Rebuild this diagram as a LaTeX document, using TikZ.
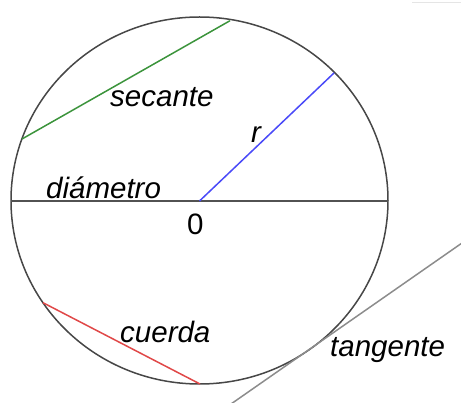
\documentclass[tikz,border=0pt]{standalone}
\usepackage{fontspec}
\setmainfont{Liberation Sans}
\definecolor{secg}{HTML}{3C943C}
\definecolor{radb}{HTML}{4A4AF8}
\definecolor{chr}{HTML}{E04848}
\begin{document}
\begin{tikzpicture}[x=1pt,y=-1pt,
  lbl/.style={inner sep=0pt,anchor=base west,font=\fontsize{29.5}{31}\selectfont\itshape},
  num/.style={inner sep=0pt,anchor=base west,font=\fontsize{29.5}{31}\selectfont},
  circ/.style={draw=black!72,line width=1.5pt},
  diam/.style={draw=black!68,line width=1.5pt},
  rad/.style={draw=radb,line width=1.5pt},
  sec/.style={draw=secg,line width=1.5pt},
  chord/.style={draw=chr,line width=1.5pt},
  tang/.style={draw=black!45,line width=1.5pt}]
\useasboundingbox (0,0) rectangle (461,403);
\clip (0,0) rectangle (461,403);
% faint top bar
\coordinate (b1) at (412,2.7);
\coordinate (b2) at (461,2.7);
\draw[black!10,line width=1.5pt] (b1) -- (b2);
% circle
\coordinate (O) at (199.5,200.5);
\draw[circ] (O) ellipse [x radius=188.5, y radius=183.5];
% diameter
\coordinate (dL) at (11,201);
\coordinate (dR) at (388,201);
\draw[diam] (dL) -- (dR);
% radius
\coordinate (c) at (199.5,201);
\coordinate (rE) at (334,73);
\draw[rad] (c) -- (rE);
% secant
\coordinate (s1) at (22,139);
\coordinate (s2) at (230,20.7);
\draw[sec] (s1) -- (s2);
% chord
\coordinate (h1) at (43,302.7);
\coordinate (h2) at (200,384);
\draw[chord] (h1) -- (h2);
% tangent
\coordinate (t1) at (231,404);
\coordinate (t2) at (462,243);
\draw[tang] (t1) -- (t2);
% labels
\node[lbl] (lsec) at (110,106.7) {secante};
\node[lbl] (lr) at (251,143) {r};
\node[lbl] (ldia) at (46,199) {diámetro};
\node[num] (lzero) at (187,235) {0};
\node[lbl] (lcue) at (120,342.7) {cuerda};
\node[lbl] (ltan) at (330,357) {tangente};
\end{tikzpicture}
\end{document}
